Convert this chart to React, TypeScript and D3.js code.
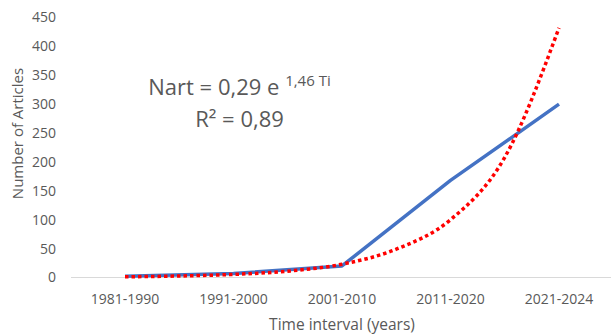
import React from "react";
import * as d3 from "d3";

const categories = ["1981-1990", "1991-2000", "2001-2010", "2011-2020", "2021-2024"];
const articles = [2, 7, 20, 168, 300];
// exponential trendline, values at half-interval steps
const trendTi = [1, 1.5, 2, 2.5, 3, 3.5, 4, 4.5, 5];
const trendValues = [1.2, 2.6, 5.4, 11, 23, 49, 100, 208, 432];
const yTicks = [0, 50, 100, 150, 200, 250, 300, 350, 400, 450];

const W = 611;
const H = 336;
const FONT = "'Open Sans', sans-serif";
const GREY = "#595959";

export default function App() {
  const x = d3.scalePoint<string>().domain(categories).range([70.75, 613.25]).padding(0.5);
  const xTi = d3
    .scaleLinear()
    .domain([1, 5])
    .range([x(categories[0]) as number, x(categories[categories.length - 1]) as number]);
  const y = d3.scaleLinear().domain([0, 450]).range([277.5, 17.5]);

  const line = d3
    .line<number>()
    .x((_, i) => x(categories[i]) as number)
    .y((d) => y(d));
  const trend = d3
    .line<number>()
    .x((_, i) => xTi(trendTi[i]))
    .y((d) => y(d))
    .curve(d3.curveMonotoneX);

  return (
    <svg
      width={W}
      height={H}
      style={{ position: "absolute", left: 0, top: 0, background: "#fff" }}
      fontFamily={FONT}
    >
      <line x1={71} x2={611} y1={y(0)} y2={y(0)} stroke="#d9d9d9" strokeWidth={1} />
      {yTicks.map((t) => (
        <text key={t} x={56} y={y(t)} dy="0.35em" textAnchor="end" fontSize={14} fill={GREY}>
          {t}
        </text>
      ))}
      {categories.map((c) => (
        <text key={c} x={x(c)} y={299} dy="0.35em" textAnchor="middle" fontSize={14} fill={GREY}>
          {c}
        </text>
      ))}
      <text
        transform={`translate(18,${133.5}) rotate(-90)`}
        textAnchor="middle"
        dy="0.35em"
        fontSize={15}
        fill={GREY}
      >
        Number of Articles
      </text>
      <text x={342} y={325} dy="0.35em" textAnchor="middle" fontSize={15.5} fill={GREY}>
        Time interval (years)
      </text>
      <path d={line(articles) || ""} fill="none" stroke="#4472C4" strokeWidth={3.5} strokeLinejoin="round" />
      <path
        d={trend(trendValues) || ""}
        fill="none"
        stroke="#FF0000"
        strokeWidth={3.5}
        strokeDasharray="3.5,3"
      />
      <text x={239.5} y={95} textAnchor="middle" fontSize={22} fill={GREY}>
        Nart = 0,29 e{" "}
        <tspan fontSize={15} dy={-9}>
          1,46 Ti
        </tspan>
      </text>
      <text x={239.5} y={127} textAnchor="middle" fontSize={22} fill={GREY}>
        R² = 0,89
      </text>
    </svg>
  );
}
